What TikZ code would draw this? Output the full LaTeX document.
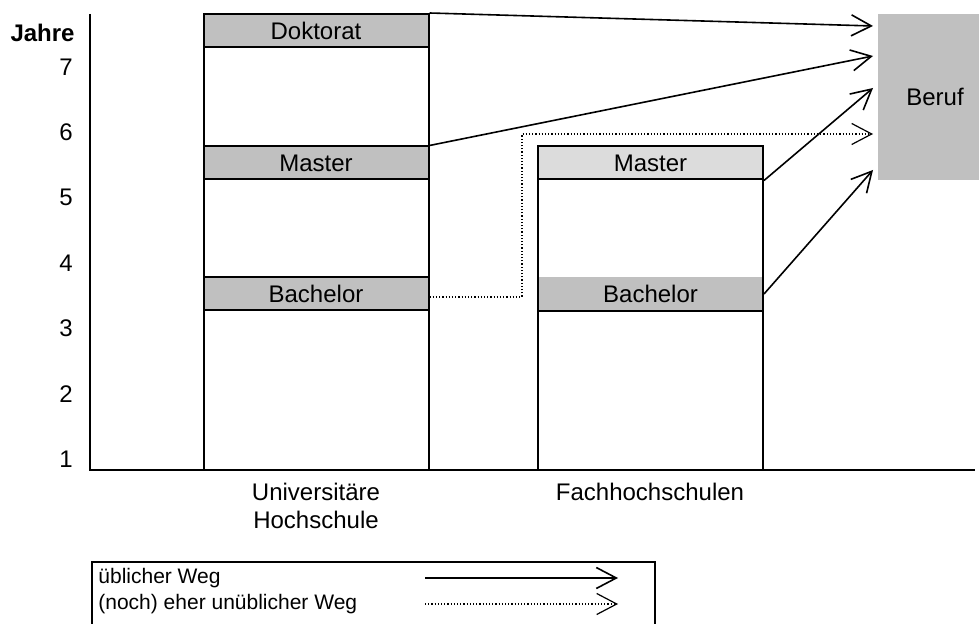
\documentclass[tikz,border=0pt]{standalone}
\usepackage{fontspec}
\setmainfont{Liberation Sans}
\usepackage{tikz}
\usetikzlibrary{arrows.meta}
\definecolor{bandgrey}{HTML}{C0C0C0}
\definecolor{lightband}{HTML}{DCDCDC}
\tikzstyle{txt} = [font=\fontsize{12}{14.4}\selectfont, inner sep=0pt]
\tikzstyle{legtxt} = [font=\fontsize{10.5}{12.6}\selectfont, inner sep=0pt]
\tikzstyle{column} = [rectangle, 
draw=black, 
line width=1pt, 
minimum width=112.5pt, 
inner sep=0pt]
\tikzstyle{band} = [rectangle, 
draw=black, 
line width=1pt, 
fill=bandgrey, 
minimum width=112.5pt, 
minimum height=16.5pt, 
txt]
\tikzstyle{arrow} = [line width=0.8pt,-{Straight Barb[length=10pt,width=10.5pt]}]
\tikzstyle{dotarrow} = [arrow, line width=0.6pt, densely dotted]

\begin{document}
\begin{tikzpicture}[x=0.5pt, y=-0.5pt]
\useasboundingbox (0,0) rectangle (979,624);
% Achsen
\draw [line width=1pt] (90,14) -- (90,470) -- (975,470);
\node (jahre) [txt, anchor=east, font=\bfseries\fontsize{12}{14.4}\selectfont] at (75,33) {Jahre};
\foreach \n in {1,...,7}
  \node (y\n) [txt, anchor=east] at (73,{459-(\n-1)*65.3}) {\n};

% Universitaere Hochschule
\node (dok) [band] at (316,30.5) {Doktorat};
\node (umaster) [band] at (316,163) {Master};
\node (ubach) [band] at (316,294) {Bachelor};
\node (uni) [column, minimum height=228pt] at (316,242) {};
\node (unilabel) [txt, align=center] at (316,506) {Universitäre\\Hochschule};

% Fachhochschulen
\node (fmaster) [band, fill=lightband] at (650.5,163) {Master};
\node (fbach) [band, draw=none] at (650.5,294) {Bachelor};
\draw [line width=1pt] (fbach.south west) -- (fbach.south east);
\node (fh) [column, minimum height=162pt] at (650.5,308) {};
\node (fhlabel) [txt] at (650,492) {Fachhochschulen};

% Beruf
\node (beruf) [rectangle, fill=bandgrey, minimum width=57pt, minimum height=83pt, txt] at (935,97) {Beruf};
\coordinate (b1) at (873,26);
\coordinate (b2) at (873,56);
\coordinate (b3) at (873,88);
\coordinate (b4) at (873,134);
\coordinate (b5) at (873,170);
\coordinate (knick) at (522,134);

\draw [arrow] (dok.north east) -- (b1);
\draw [arrow] (umaster.north east) -- (b2);
\draw [arrow] (fmaster.south east) -- (b3);
\draw [dotarrow] ([yshift=-1.5pt]ubach.east) -| (knick) -- (b4);
\draw [arrow] (fbach.east) -- (b5);

% Legende
\draw [line width=1pt] (92,640) |- (655,562) -- (655,640);
\node (leg1) [legtxt, anchor=west] at (98,578) {üblicher Weg};
\node (leg2) [legtxt, anchor=west] at (98,604) {(noch) eher unüblicher Weg};
\coordinate (l1a) at (425,578);
\coordinate (l1b) at (618,578);
\coordinate (l2a) at (425,604);
\coordinate (l2b) at (618,604);
\draw [arrow] (l1a) -- (l1b);
\draw [dotarrow] (l2a) -- (l2b);
\end{tikzpicture}
\end{document}
